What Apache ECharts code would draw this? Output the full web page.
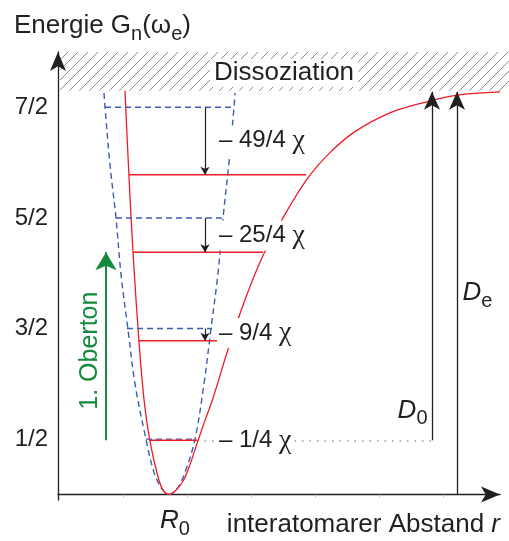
<!DOCTYPE html>
<html><head><meta charset="utf-8">
<script src="https://cdn.jsdelivr.net/npm/echarts@6/dist/echarts.min.js"></script>
<style>html,body{margin:0;padding:0;background:#fff}#c{width:509px;height:541px}</style>
</head><body><div id="c"></div>
<script>
// ---------- data ----------
const yTickValues = [0.5, 1.5, 2.5, 3.5];
const yTickLabels = ['1/2', '3/2', '5/2', '7/2'];
const xTickValues = [0.65, 1.29, 1.93, 2.57, 3.21, 3.85];
const R0 = 1.11;
const dissociationEnergy = 3.65;

// harmonic (parabola) potential [r, E]
const harmonicCurve = [
  [0.46, 3.63], [0.47, 3.5], [0.52, 2.98], [0.58, 2.5], [0.63, 1.99], [0.70, 1.49],
  [0.77, 1.0], [0.88, 0.5], [0.96, 0.2], [1.04, 0.05], [1.115, 0], [1.19, 0.05],
  [1.27, 0.2], [1.37, 0.5], [1.46, 1.0], [1.53, 1.5], [1.60, 2.0], [1.65, 2.5],
  [1.71, 3.0], [1.76, 3.5], [1.77, 3.63]
];
// Morse potential, points [r, E]
const morseCurve = [
  [0.67, 3.65], [0.71, 2.87], [0.75, 2.19], [0.81, 1.38], [0.86, 0.86], [0.92, 0.48],
  [1.0, 0.16], [1.05, 0.04], [1.11, 0], [1.18, 0.04], [1.25, 0.12], [1.32, 0.27],
  [1.39, 0.46], [1.47, 0.67], [1.55, 0.87], [1.70, 1.31], [1.87, 1.76], [2.05, 2.16],
  [2.25, 2.50], [2.49, 2.85], [2.72, 3.09], [2.97, 3.28], [3.32, 3.45], [3.69, 3.55],
  [3.99, 3.61], [4.42, 3.64]
];

const harmonicLevels = [0.5, 1.5, 2.5, 3.5];
const harmonicLevelLeft = [0.88, 0.69, 0.58, 0.47];
const harmonicLevelRight = [1.37, 1.54, 1.65, 1.76];

const anharmonicLevels = [0.49, 1.39, 2.19, 2.89];
const anharmonicLevelLeft = [0.91, 0.80, 0.75, 0.71];
const anharmonicLevelRight = [1.39, 1.59, 2.05, 2.48];

const correctionLabels = ['– 1/4 χ', '– 9/4 χ', '– 25/4 χ', '– 49/4 χ'];
const correctionLabelE = [0.49, 1.46, 2.34, 3.20];
const correctionLabelR = 1.585;
const correctionArrowR = 1.47;

const d0R = 3.74;
const deR = 3.99;
const overtoneR = 0.48;

// ---------- chart ----------
const F = 'Liberation Sans, Arial, sans-serif';
const TXT = '#231f20';
const RED = '#ee1c25';
const BLUE = '#3a5db4';
const GREEN = '#138a3c';

const hatch = document.createElement('canvas');
hatch.width = 10; hatch.height = 10;
(function () {
  const g = hatch.getContext('2d');
  g.strokeStyle = '#8c8c8c'; g.lineWidth = 1;
  g.beginPath();
  g.moveTo(0, 10); g.lineTo(10, 0);
  g.moveTo(-5, 5); g.lineTo(5, -5);
  g.moveTo(5, 15); g.lineTo(15, 5);
  g.stroke();
})();

const rich = {
  i: { fontStyle: 'italic', fontSize: 26, fontFamily: F, color: TXT },
  s: { fontSize: 20, fontFamily: F, color: TXT, padding: [16, 0, 0, 0] },
  c: { fontSize: 28, fontFamily: 'Liberation Serif, serif', color: TXT },
  t: { fontSize: 24, fontFamily: F, color: TXT },
  T: { fontSize: 26, fontFamily: F, color: TXT }
};

function levelSeries(levels, left, right, style) {
  return levels.map((e, i) => ({
    type: 'line', data: [[left[i], e], [right[i], e]], showSymbol: false, silent: true, z: 3,
    lineStyle: style
  }));
}

const labelData = [];
correctionLabels.forEach((t, i) => labelData.push({
  value: [correctionLabelR, correctionLabelE[i]],
  label: { position: 'right', distance: 0, formatter: '{t|' + t.replace('χ', '}{c|χ}'), backgroundColor: '#fff', padding: [1, 2, 1, 2] }
}));
labelData.push({
  value: [2.26, 3.81],
  label: { position: 'inside', formatter: '{T|Dissoziation}', backgroundColor: '#fff', padding: [1, 4, 1, 4] }
});
labelData.push({
  value: [3.70, 0.76],
  label: { position: 'left', distance: 0, formatter: '{i|D}{s|0}' }
});
labelData.push({
  value: [4.04, 1.82],
  label: { position: 'right', distance: 0, formatter: '{i|D}{s|e}' }
});
labelData.push({
  value: [0.32, 1.30],
  label: { position: 'inside', rotate: 90, formatter: '1. Oberton', color: GREEN, fontSize: 25, fontFamily: F }
});

const option = {
  animation: false,
  grid: { left: 58, right: 9, top: 52, bottom: 41, outerBoundsMode: 'none', containLabel: false },
  xAxis: {
    type: 'value', min: 0, max: 4.42,
    splitLine: { show: false },
    axisLine: { symbol: ['none', 'arrow'], symbolSize: [12, 19], lineStyle: { color: TXT, width: 1.3 } },
    axisTick: { show: true, customValues: xTickValues, length: 3, lineStyle: { color: '#bbb' } },
    axisLabel: {
      customValues: [R0], margin: 3, padding: [0, 0, 0, 12],
      formatter: () => '{i|R}{s|0}', rich: rich
    }
  },
  yAxis: {
    type: 'value', min: -0.05, max: 4.0,
    splitLine: { show: false },
    axisLine: { symbol: ['none', 'arrow'], symbolSize: [12, 19], lineStyle: { color: TXT, width: 1.3 } },
    axisTick: { show: false },
    axisLabel: {
      customValues: yTickValues, margin: 10, fontSize: 24, fontFamily: F, color: TXT,
      formatter: (v) => yTickLabels[yTickValues.findIndex(t => Math.abs(t - v) < 1e-6)]
    }
  },
  graphic: [
    {
      type: 'text', left: 14, top: 13,
      style: { text: '{T|Energie G}{s|n}{T|(ω}{s|e}{T|)}', rich: rich, fill: TXT }
    },
    {
      type: 'text', right: 9, top: 512,
      style: { text: '{T|interatomarer Abstand }{i|r}', rich: rich, fill: TXT }
    }
  ],
  series: [
    {
      type: 'custom', coordinateSystem: 'cartesian2d', z: 0, silent: true,
      data: [[0.02, dissociationEnergy]],
      renderItem: (params, api) => {
        const p = api.coord([api.value(0), api.value(1)]);
        const top = api.coord([api.value(0), 4.0]);
        return {
          type: 'rect',
          shape: { x: p[0], y: top[1], width: api.getWidth() - p[0], height: p[1] - top[1] },
          style: { fill: { image: hatch, repeat: 'repeat' } }
        };
      }
    },
    {
      type: 'line', data: harmonicCurve, smooth: 0.35, showSymbol: false, silent: true, z: 3,
      lineStyle: { color: BLUE, width: 1.4, type: [6, 4] }
    },
    {
      type: 'line', data: morseCurve, smooth: 0.35, showSymbol: false, silent: true, z: 3,
      lineStyle: { color: RED, width: 1.3 }
    },
    ...levelSeries(harmonicLevels, harmonicLevelLeft, harmonicLevelRight, { color: BLUE, width: 1.4, type: [6, 4] }),
    ...levelSeries(anharmonicLevels, anharmonicLevelLeft, anharmonicLevelRight, { color: RED, width: 1.4 }),
    {
      // dotted guide from ground level to D0 arrow
      type: 'lines', coordinateSystem: 'cartesian2d', silent: true, z: 2,
      data: [{ coords: [[anharmonicLevelRight[0], anharmonicLevels[0]], [d0R, anharmonicLevels[0]]] }],
      lineStyle: { color: '#9a9a9a', width: 1.5, type: [1.5, 6], opacity: 1 }
    },
    {
      // anharmonic correction arrows
      type: 'lines', coordinateSystem: 'cartesian2d', silent: true, z: 4,
      symbol: ['none', 'arrow'], symbolSize: [1, [7, 8]],
      data: [1, 2, 3].map(n => ({ coords: [[correctionArrowR, harmonicLevels[n]], [correctionArrowR, anharmonicLevels[n]]] })),
      lineStyle: { color: TXT, width: 1.2, opacity: 1 }
    },
    {
      // D0 and De arrows
      type: 'lines', coordinateSystem: 'cartesian2d', silent: true, z: 4,
      symbol: ['none', 'arrow'], symbolSize: [1, [12, 18]],
      data: [
        { coords: [[d0R, anharmonicLevels[0]], [d0R, dissociationEnergy - 0.01]] },
        { coords: [[deR, 0], [deR, dissociationEnergy - 0.01]] }
      ],
      lineStyle: { color: TXT, width: 1.3, opacity: 1 }
    },
    {
      // first overtone arrow
      type: 'lines', coordinateSystem: 'cartesian2d', silent: true, z: 4,
      symbol: ['none', 'arrow'], symbolSize: [1, [16, 18]],
      data: [{ coords: [[overtoneR, anharmonicLevels[0]], [overtoneR, anharmonicLevels[2]]] }],
      lineStyle: { color: GREEN, width: 2, opacity: 1 }
    },
    {
      type: 'scatter', z: 10, silent: true, symbolSize: 1,
      itemStyle: { color: 'rgba(0,0,0,0)', opacity: 1 },
      label: { show: true, rich: rich, color: TXT, opacity: 1 },
      data: labelData
    }
  ]
};

const chart = echarts.init(document.getElementById('c'), null, { renderer: 'canvas' });
chart.setOption(option);
</script>
</body></html>
